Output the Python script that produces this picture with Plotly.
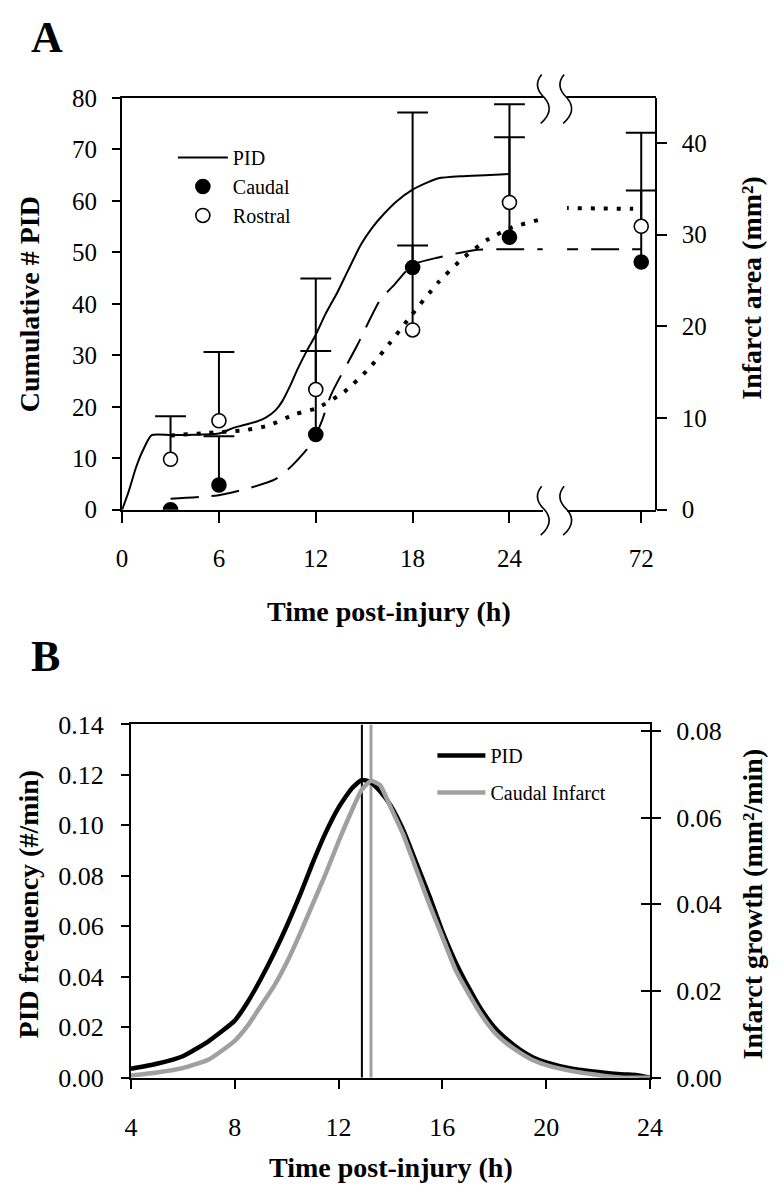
import plotly.graph_objects as go

W, H = 784, 1200
def X(px): return px / W
def Y(py): return 1 - py / H

FONT = "Liberation Serif"

# ---------------- Panel A data ----------------
time_pts = [3, 6, 12, 18, 24, 72]
caudal_area = [0.0, 2.7, 8.2, 26.4, 29.7, 27.0]
caudal_se = [None, 5.3, 9.1, 16.9, 10.9, 7.8]
rostral_area = [5.5, 9.7, 13.1, 19.6, 33.5, 30.9]
rostral_se = [4.7, 7.5, 12.1, 9.2, 10.7, 10.2]

pid_time = [0, 0.4, 0.86, 1.27, 1.83, 3, 4, 5, 6, 6.9, 7.5, 8.3, 8.9, 9.5, 9.93,
            10.4, 10.9, 11.5, 11.95, 12.6, 13.35, 14.0, 14.8, 15.5, 16.2, 17.0,
            18.0, 19.0, 19.6, 21.0, 22.5, 24.0]
pid_cum = [0, 3.5, 8.2, 11.4, 14.5, 14.5, 14.5, 14.6, 14.8, 15.9, 16.4, 17.1, 17.9,
           19.3, 21.1, 24.0, 27.5, 31.2, 33.7, 38.0, 42.3, 46.5, 51.5, 54.8, 57.4,
           59.9, 62.2, 63.7, 64.4, 64.8, 65.0, 65.2]

caudal_fit_time = [3, 5.9, 7.7, 9.5, 10.5, 11.74, 12.35, 12.95, 14.56, 15.97, 16.9,
                   18.0, 19.6, 21.8, 24, 26, 72]
caudal_fit = [1.2, 1.56, 2.27, 3.33, 4.75, 7.23, 9.54, 12.55, 17.9, 22.8, 24.6,
              26.7, 27.5, 28.3, 28.4, 28.4, 28.4]

rostral_fit_time = [3, 5.3, 7.5, 9.1, 10.7, 12.1, 13.8, 15.3, 16.6, 17.7, 19.6,
                    21.1, 22.6, 24.2, 25.8, 28, 71.5]
rostral_fit = [8.1, 8.37, 8.65, 9.2, 10.4, 11.1, 12.9, 15.4, 18.2, 20.7, 24.8,
               27.4, 29.4, 30.8, 31.6, 32.8, 32.8]

a_x_ticks_left = [0, 6, 12, 18, 24]
a_x_ticks_right = [72]

# ---------------- Panel B data ----------------
b_time = [4, 5, 6, 7, 8, 8.5, 9, 9.5, 10, 10.5, 11, 11.5, 12, 12.5, 12.9, 13.25,
          13.6, 14, 14.5, 15, 15.5, 16, 16.5, 17, 17.5, 18, 18.5, 19, 19.5, 20,
          21, 22, 22.5, 23, 23.5, 24]
pid_freq = [0.0035, 0.0055, 0.0085, 0.0145, 0.0226, 0.030, 0.039, 0.049, 0.060,
            0.072, 0.085, 0.097, 0.107, 0.1145, 0.118, 0.117, 0.1135, 0.108,
            0.098, 0.085, 0.072, 0.058, 0.046, 0.036, 0.027, 0.020, 0.015, 0.011,
            0.008, 0.006, 0.0035, 0.0022, 0.0017, 0.0013, 0.001, 0.0]
caudal_growth = [0.0005, 0.0012, 0.0022, 0.0042, 0.0085, 0.012, 0.0165, 0.021,
                 0.0265, 0.033, 0.040, 0.047, 0.0545, 0.0615, 0.0665, 0.0685, 0.0675,
                 0.0625, 0.056, 0.048, 0.040, 0.0325, 0.025, 0.0195, 0.0145,
                 0.0105, 0.0078, 0.0057, 0.0040, 0.0029, 0.0015, 0.0006, 0.0002,
                 0.0, 0.0, 0.0]
peak_pid = 12.9
peak_caudal = 13.25

# ---------------- figure ----------------
fig = go.Figure()

fig.add_trace(go.Scatter(x=pid_time, y=pid_cum, xaxis="x", yaxis="y", mode="lines",
                         line=dict(color="black", width=2, shape="spline", smoothing=0.6),
                         name="PID", legend="legend"))

for xa in ["x", "x2"]:
    fig.add_trace(go.Scatter(x=caudal_fit_time, y=caudal_fit, xaxis=xa, yaxis="y2",
                             mode="lines", showlegend=False,
                             line=dict(color="black", width=2, dash="28px,13px",
                                       shape="spline", smoothing=0.6)))
    fig.add_trace(go.Scatter(x=rostral_fit_time, y=rostral_fit, xaxis=xa, yaxis="y2",
                             mode="lines", showlegend=False,
                             line=dict(color="black", width=4, dash="4px,9px",
                                       shape="spline", smoothing=0.6)))

def add_points(ts, vs, ses, filled, name, xa, show):
    wx, wy, cx, cy = [], [], [], []
    for t, v, s in zip(ts, vs, ses):
        if s is None:
            continue
        wx += [t, t, None]
        wy += [v, v + s, None]
        cx.append(t)
        cy.append(v + s)
    fig.add_trace(go.Scatter(x=wx, y=wy, xaxis=xa, yaxis="y2", mode="lines",
                             line=dict(color="black", width=2), showlegend=False,
                             hoverinfo="skip"))
    fig.add_trace(go.Scatter(x=cx, y=cy, xaxis=xa, yaxis="y2", mode="markers",
                             marker=dict(symbol="line-ew", size=22,
                                         line=dict(color="black", width=2)),
                             showlegend=False, hoverinfo="skip"))
    fig.add_trace(go.Scatter(x=ts, y=vs, xaxis=xa, yaxis="y2", mode="markers",
                             name=name, showlegend=show, legend="legend",
                             marker=dict(symbol="circle", size=14,
                                         color="black" if filled else "white",
                                         line=dict(color="black", width=1.6))))

for xa, sel in [("x", lambda t: t <= 24), ("x2", lambda t: t > 24)]:
    idx = [i for i, t in enumerate(time_pts) if sel(t)]
    add_points([time_pts[i] for i in idx], [caudal_area[i] for i in idx],
               [caudal_se[i] for i in idx], True, "Caudal", xa, xa == "x")
for xa, sel in [("x", lambda t: t <= 24), ("x2", lambda t: t > 24)]:
    idx = [i for i, t in enumerate(time_pts) if sel(t)]
    add_points([time_pts[i] for i in idx], [rostral_area[i] for i in idx],
               [rostral_se[i] for i in idx], False, "Rostral", xa, xa == "x")

# Panel B
fig.add_trace(go.Scatter(x=[peak_pid, peak_pid], y=[0, 0.14], xaxis="x3", yaxis="y3",
                         mode="lines", line=dict(color="black", width=2),
                         showlegend=False, hoverinfo="skip"))
fig.add_trace(go.Scatter(x=[peak_caudal, peak_caudal], y=[0, 0.14], xaxis="x3", yaxis="y3",
                         mode="lines", line=dict(color="#a0a0a0", width=3),
                         showlegend=False, hoverinfo="skip"))
fig.add_trace(go.Scatter(x=b_time, y=pid_freq, xaxis="x3", yaxis="y3", mode="lines",
                         line=dict(color="black", width=4.5, shape="spline", smoothing=0.5),
                         name="PID", legend="legend2", legendgroup="b1"))
fig.add_trace(go.Scatter(x=b_time, y=caudal_growth, xaxis="x3", yaxis="y4", mode="lines",
                         line=dict(color="#a0a0a0", width=4.5, shape="spline", smoothing=0.5),
                         name="Caudal Infarct", legend="legend2", legendgroup="b2"))
fig.add_trace(go.Scatter(x=[], y=[], xaxis="x3", yaxis="y5", showlegend=False))

def axstyle(size):
    return dict(showgrid=False, zeroline=False, showline=True, linecolor="black",
                linewidth=2, ticks="outside", tickwidth=2, tickcolor="black",
                tickfont=dict(family=FONT, size=size, color="black"))
A = axstyle(25)
B = axstyle(26)

xa_left = dict(domain=[X(119), X(550)], range=[0, (550 - 119) / 16.54], anchor="y",
               tickmode="array", tickvals=a_x_ticks_left, ticklen=11, mirror=True,
               ticklabelstandoff=14, **A)
xa_right = dict(domain=[X(575), X(666)],
                range=[72 - (651 - 575) / 16.54, 72 + (666 - 651) / 16.54], anchor="y",
                tickmode="array", tickvals=a_x_ticks_right, ticklen=11, mirror=True,
                ticklabelstandoff=14, **A)
ya_left = dict(domain=[Y(508), Y(86)], range=[0, 80], dtick=10, anchor="x",
               ticklen=8, ticklabelstandoff=10, **A)
ya_right = dict(overlaying="y", side="right", anchor="free", position=X(666),
                range=[0, (508 - 86) / 9.4], tickmode="array", tickvals=[0, 10, 20, 30, 40],
                ticklen=10, ticklabelstandoff=10, **A)

xb = dict(domain=[X(128), X(660)], range=[4, 24], anchor="y3", tickmode="array",
          tickvals=[4, 8, 12, 16, 20, 24], ticklen=9, mirror=True,
          ticklabelstandoff=16, **B)
yb_left = dict(domain=[Y(1090), Y(728)], range=[0, 0.14], dtick=0.02, tickformat=".2f",
               anchor="x3", ticklen=8, ticklabelstandoff=12, **B)
yb_right = dict(overlaying="y3", side="right", anchor="x3", range=[0, (1090 - 728) / 4440],
                tickmode="array", tickvals=[0, 0.02, 0.04, 0.06, 0.08], tickformat=".2f",
                ticklen=9, ticklabelstandoff=10, **B)
yb_inner = dict(overlaying="y3", side="right", anchor="x3", range=[0, (1090 - 728) / 4440],
                tickmode="array", tickvals=[0, 0.02, 0.04, 0.06, 0.08], ticks="inside",
                ticklen=9, tickwidth=2, tickcolor="black", showticklabels=False,
                showgrid=False, zeroline=False, showline=False)

def glyph(cx, cy):
    pts = [(cx - 3, cy - 24), (cx - 13, cy - 12), (cx, cy), (cx + 11, cy + 13), (cx - 4, cy + 26)]
    p = [(X(a), Y(b)) for a, b in pts]
    return ("M %f,%f Q %f,%f %f,%f Q %f,%f %f,%f" %
            (p[0][0], p[0][1], p[1][0], p[1][1], p[2][0], p[2][1],
             p[3][0], p[3][1], p[4][0], p[4][1]))

shapes = []
for cx in (552, 575):
    for cy in (86, 508):
        shapes.append(dict(type="path", xref="paper", yref="paper", path=glyph(cx, cy),
                           line=dict(color="black", width=1.6)))

title_font = dict(family=FONT, size=28, color="black", weight="bold")
letter_font = dict(family=FONT, size=44, color="black", weight="bold")
annotations = [
    dict(text="A", x=X(42), y=Y(24), font=letter_font),
    dict(text="B", x=X(40), y=Y(658), font=letter_font),
    dict(text="Cumulative # PID", x=X(24), y=Y(297), textangle=-90, font=title_font),
    dict(text="Infarct area (mm²)", x=X(764), y=Y(280), textangle=-90, font=title_font),
    dict(text="Time post-injury (h)", x=X(392), y=Y(612), font=title_font),
    dict(text="PID frequency (#/min)", x=X(24), y=Y(912), textangle=-90, font=title_font),
    dict(text="Infarct growth (mm²/min)", x=X(766), y=Y(912), textangle=-90, font=title_font),
    dict(text="Time post-injury (h)", x=X(395), y=Y(1182), font=title_font),
]
for a in annotations:
    a.update(xref="paper", yref="paper", showarrow=False, xanchor="center", yanchor="middle")

fig.update_layout(
    width=W, height=H, margin=dict(l=0, r=0, t=0, b=0),
    paper_bgcolor="white", plot_bgcolor="white",
    xaxis=xa_left, xaxis2=xa_right, yaxis=ya_left, yaxis2=ya_right,
    xaxis3=xb, yaxis3=yb_left, yaxis4=yb_right, yaxis5=yb_inner,
    shapes=shapes, annotations=annotations,
    legend=dict(x=X(171), y=Y(127), xanchor="left", yanchor="top",
                font=dict(family=FONT, size=20, color="black"),
                bgcolor="rgba(0,0,0,0)", itemwidth=50),
    legend2=dict(x=X(437), y=Y(740), xanchor="left", yanchor="top",
                 font=dict(family=FONT, size=20, color="black"),
                 bgcolor="rgba(0,0,0,0)", itemwidth=48, tracegroupgap=8),
    showlegend=True,
)

fig.write_html(
    "out.html",
    config={"displayModeBar": False},
    post_script=("document.documentElement.style.margin='0';"
                 "document.documentElement.style.overflow='hidden';"
                 "document.body.style.margin='0';document.body.style.padding='0';"
                 "document.body.style.overflow='hidden';"),
)
